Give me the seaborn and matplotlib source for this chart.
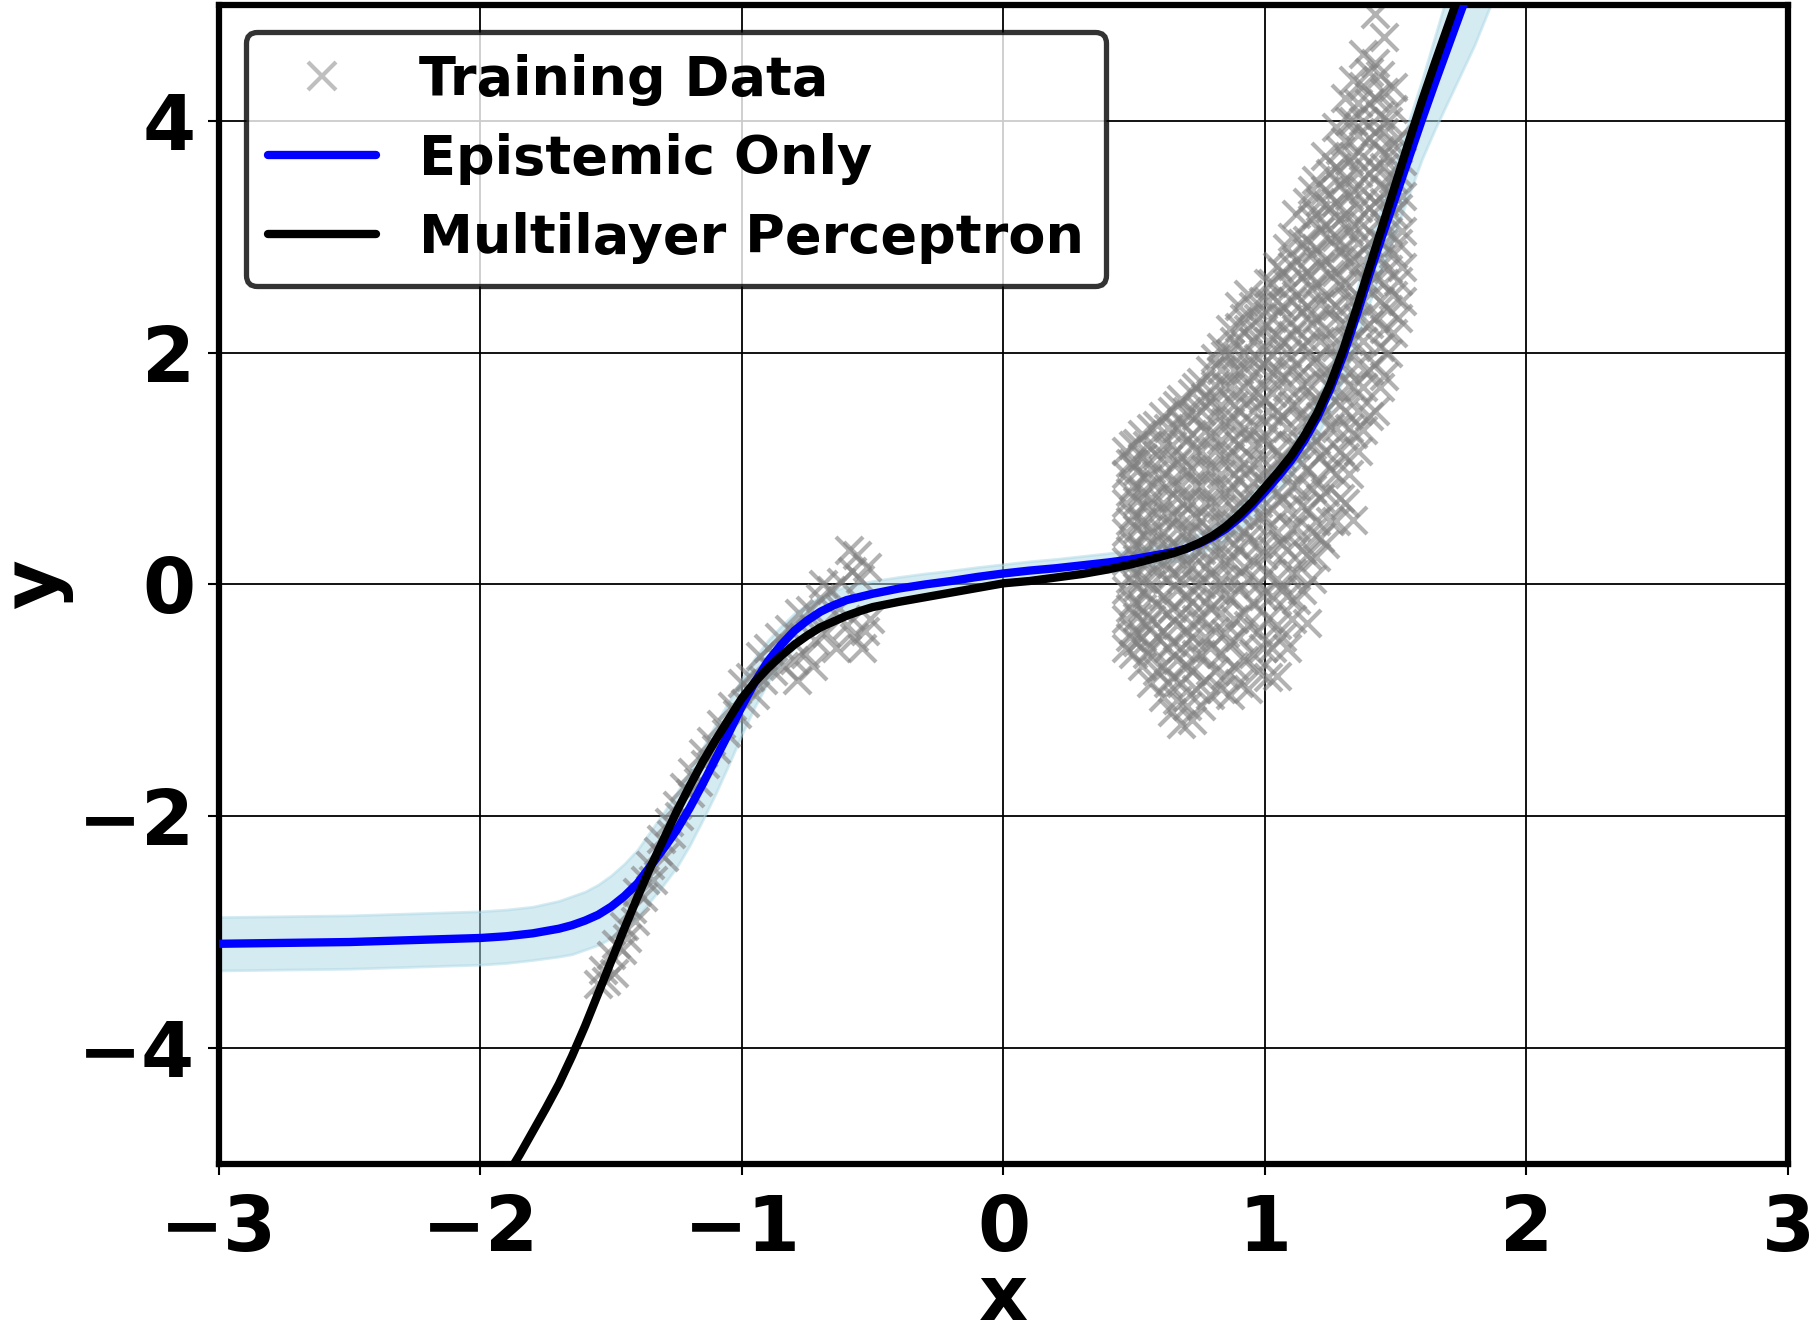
import matplotlib
matplotlib.use("Agg")
import matplotlib.pyplot as plt
import numpy as np
import pandas as pd
import seaborn as sns
from matplotlib.lines import Line2D

# ---------------- data ----------------
# Epistemic-only model: mean curve and half-width of its shaded band
epi_x = [-3.0, -2.5, -2.0, -1.9, -1.8, -1.7, -1.65, -1.6, -1.55, -1.5, -1.45, -1.4,
         -1.35, -1.3, -1.25, -1.2, -1.15, -1.1, -1.05, -1.0,
         -0.95, -0.9, -0.85, -0.8, -0.75, -0.7, -0.65, -0.6,
         -0.5, -0.4, -0.3, -0.2, -0.1, 0.0, 0.1, 0.2, 0.3, 0.4, 0.5, 0.6,
         0.65, 0.7, 0.75, 0.8, 0.85, 0.9, 0.95, 1.0,
         1.05, 1.1, 1.15, 1.2, 1.25, 1.3, 1.35, 1.4, 1.45, 1.5,
         1.55, 1.6, 1.65, 1.7, 1.75, 1.8, 1.85, 1.9]
epi_y = [-3.10, -3.085, -3.05, -3.035, -3.01, -2.97, -2.94, -2.90, -2.85, -2.78, -2.69, -2.58,
         -2.43, -2.28, -2.12, -1.93, -1.72, -1.50, -1.28, -1.05,
         -0.84, -0.66, -0.52, -0.40, -0.31, -0.235, -0.18, -0.135,
         -0.08, -0.035, 0.0, 0.03, 0.065, 0.095, 0.12, 0.14, 0.165, 0.19, 0.22, 0.26,
         0.28, 0.31, 0.355, 0.41, 0.48, 0.57, 0.68, 0.80,
         0.93, 1.07, 1.24, 1.44, 1.69, 1.98, 2.32, 2.68, 3.02, 3.35,
         3.68, 4.01, 4.33, 4.64, 4.95, 5.25, 5.55, 5.85]
epi_hw = [0.23, 0.23, 0.23, 0.23, 0.23, 0.24, 0.25, 0.25, 0.26, 0.27, 0.28, 0.29,
          0.30, 0.31, 0.32, 0.32, 0.31, 0.30, 0.27, 0.24,
          0.21, 0.18, 0.16, 0.15, 0.14, 0.13, 0.125, 0.12,
          0.11, 0.10, 0.095, 0.09, 0.085, 0.08, 0.08, 0.08, 0.08, 0.08, 0.08, 0.08,
          0.08, 0.08, 0.085, 0.09, 0.095, 0.10, 0.105, 0.11,
          0.12, 0.13, 0.14, 0.16, 0.18, 0.20, 0.22, 0.25, 0.28, 0.30,
          0.32, 0.34, 0.40, 0.47, 0.54, 0.60, 0.62, 0.65]

# Multilayer perceptron curve
mlp_x = [-1.92, -1.85, -1.8, -1.75, -1.7, -1.65, -1.6, -1.55, -1.5, -1.45, -1.4,
         -1.35, -1.3, -1.25, -1.2, -1.15, -1.1, -1.05, -1.0,
         -0.95, -0.9, -0.85, -0.8, -0.75, -0.7, -0.65, -0.6, -0.55, -0.5,
         -0.4, -0.3, -0.2, -0.1, 0.0, 0.1, 0.2, 0.3, 0.4, 0.5,
         0.55, 0.6, 0.65, 0.7, 0.75, 0.8, 0.85, 0.9, 0.95, 1.0,
         1.05, 1.1, 1.15, 1.2, 1.25, 1.3, 1.35, 1.4, 1.45, 1.5, 1.55, 1.6,
         1.65, 1.7, 1.75]
mlp_y = [-5.18, -4.92, -4.72, -4.52, -4.31, -4.07, -3.81, -3.53, -3.25, -2.97, -2.70,
         -2.44, -2.20, -1.96, -1.74, -1.53, -1.34, -1.16, -0.98,
         -0.84, -0.72, -0.615, -0.52, -0.44, -0.37, -0.32, -0.27, -0.23, -0.195,
         -0.15, -0.11, -0.07, -0.03, 0.01, 0.03, 0.06, 0.09, 0.13, 0.18,
         0.21, 0.24, 0.27, 0.31, 0.36, 0.42, 0.50, 0.60, 0.71, 0.84,
         0.97, 1.11, 1.28, 1.48, 1.73, 2.03, 2.38, 2.74, 3.10, 3.46, 3.82, 4.17,
         4.50, 4.82, 5.14]

# Training data, left cluster
left_x = [-1.55, -1.53, -1.52, -1.50, -1.49, -1.48, -1.46, -1.45, -1.44, -1.42,
          -1.41, -1.40, -1.38, -1.37, -1.35, -1.34, -1.32, -1.31, -1.30, -1.28,
          -1.27, -1.25, -1.24, -1.22, -1.20, -1.19, -1.17, -1.15, -1.14, -1.12,
          -1.10, -1.08, -1.06, -1.04, -1.02, -1.00, -0.99, -0.97, -0.95, -0.93,
          -0.92, -0.90, -0.88, -0.86, -0.84, -0.82, -0.80, -0.78, -0.76, -0.74,
          -0.72, -0.70, -0.68, -0.66, -0.64, -0.62, -0.60, -0.58, -0.57, -0.56,
          -0.55, -0.54, -0.52, -0.51, -0.59, -0.63, -0.53, -0.79, -0.73, -0.69]
left_y = [-3.45, -3.33, -3.42, -3.20, -3.35, -3.10, -3.15, -2.95, -3.05, -2.80,
          -2.90, -2.65, -2.70, -2.55, -2.42, -2.55, -2.30, -2.20, -2.35, -2.05,
          -2.15, -1.90, -2.00, -1.75, -1.80, -1.62, -1.70, -1.45, -1.55, -1.35,
          -1.42, -1.20, -1.28, -1.05, -1.12, -0.85, -1.02, -0.80, -0.95, -0.62,
          -0.82, -0.55, -0.75, -0.45, -0.70, -0.38, -0.65, -0.25, -0.60, -0.22,
          -0.48, -0.12, -0.42, -0.05, -0.55, 0.02, -0.35, 0.12, -0.45, 0.25,
          0.05, -0.55, 0.15, -0.30, 0.30, -0.20, -0.40, -0.82, -0.70, 0.00]

# Training data, right cluster (read column by column)
right_cols_x = [0.47, 0.495, 0.53, 0.565, 0.61, 0.645, 0.68, 0.72, 0.755, 0.79,
                0.83, 0.865, 0.90, 0.935, 0.975, 1.01, 1.045, 1.085, 1.12, 1.16,
                1.195, 1.23, 1.27, 1.305, 1.336, 1.375, 1.42, 1.455, 1.49, 1.525]
right_cols_y = [
    [-0.55, -0.3, -0.05, 0.2, 0.45, 0.7, 0.95, 1.15],
    [-0.6, -0.4, -0.15, 0.1, 0.35, 0.6, 0.85, 1.05, 1.2],
    [-0.7, -0.45, -0.2, 0.05, 0.3, 0.55, 0.8, 1.1, 1.3],
    [-0.85, -0.55, -0.3, 0.0, 0.25, 0.5, 0.75, 1.0, 1.35],
    [-0.97, -0.7, -0.4, -0.1, 0.2, 0.45, 0.7, 0.95, 1.2, 1.45],
    [-1.1, -0.8, -0.5, -0.2, 0.1, 0.35, 0.6, 0.9, 1.2, 1.5],
    [-1.2, -0.85, -0.55, -0.25, 0.05, 0.3, 0.6, 0.85, 1.1, 1.4, 1.6],
    [-1.17, -0.75, -0.45, -0.15, 0.15, 0.45, 0.7, 1.0, 1.3, 1.65],
    [-1.05, -0.6, -0.3, 0.0, 0.3, 0.55, 0.85, 1.15, 1.5, 1.75],
    [-0.95, -0.55, -0.2, 0.1, 0.4, 0.7, 1.0, 1.3, 1.6, 1.85],
    [-0.9, -0.6, -0.25, 0.05, 0.35, 0.65, 0.95, 1.25, 1.55, 1.85, 2.05],
    [-0.95, -0.5, -0.1, 0.2, 0.5, 0.8, 1.1, 1.4, 1.7, 2.0, 2.2],
    [-0.85, -0.45, -0.05, 0.3, 0.6, 0.9, 1.2, 1.5, 1.85, 2.22, 2.4],
    [-0.9, -0.35, 0.05, 0.4, 0.7, 1.0, 1.3, 1.6, 1.9, 2.2, 2.51],
    [-0.75, -0.4, 0.0, 0.35, 0.7, 1.05, 1.35, 1.65, 1.95, 2.3],
    [-0.8, -0.3, 0.1, 0.5, 0.85, 1.2, 1.5, 1.8, 2.1, 2.45, 2.6],
    [-0.79, -0.35, 0.05, 0.45, 0.8, 1.15, 1.5, 1.85, 2.15, 2.45, 2.75],
    [-0.55, -0.1, 0.3, 0.65, 1.0, 1.35, 1.7, 2.0, 2.3, 2.6, 2.9],
    [-0.13, 0.1, 0.5, 0.85, 1.2, 1.55, 1.9, 2.2, 2.5, 2.8, 3.2],
    [-0.33, 0.25, 0.65, 1.0, 1.4, 1.75, 2.1, 2.4, 2.7, 2.97, 3.3],
    [0.24, 0.55, 0.9, 1.25, 1.6, 1.95, 2.3, 2.6, 2.9, 3.2, 3.49],
    [0.35, 0.8, 1.15, 1.5, 1.85, 2.2, 2.5, 2.8, 3.1, 3.4, 3.7],
    [0.55, 0.95, 1.35, 1.7, 2.05, 2.4, 2.7, 3.0, 3.3, 3.6, 3.95],
    [0.7, 1.1, 1.5, 1.9, 2.25, 2.6, 2.9, 3.2, 3.5, 3.83, 4.2],
    [0.56, 1.3, 1.7, 2.1, 2.45, 2.8, 3.1, 3.4, 3.7, 4.0, 4.35],
    [1.33, 1.7, 2.1, 2.45, 2.8, 3.1, 3.4, 3.7, 4.0, 4.3, 4.58],
    [1.5, 1.9, 2.3, 2.65, 3.0, 3.3, 3.6, 3.9, 4.2, 4.5, 4.92],
    [1.8, 2.2, 2.6, 2.95, 3.3, 3.6, 3.9, 4.25, 4.72],
    [2.17, 2.5, 2.85, 3.2, 3.5, 3.8, 4.1, 4.29],
    [2.45, 2.74, 3.05, 3.35, 3.65],
]
# second, staggered set of columns in the same cloud
right_cols2_x = [0.482, 0.512, 0.548, 0.588, 0.628, 0.662, 0.70, 0.738, 0.772, 0.81,
                 0.848, 0.882, 0.918, 0.955, 0.992, 1.028, 1.065, 1.102, 1.14, 1.178,
                 1.212, 1.25, 1.288, 1.32, 1.355, 1.398, 1.438, 1.472, 1.508]
right_cols2_y = [
    [-0.45, -0.2, 0.05, 0.3, 0.55, 0.8, 1.05],
    [-0.5, -0.28, -0.02, 0.22, 0.48, 0.72, 0.98, 1.22],
    [-0.6, -0.35, -0.08, 0.18, 0.42, 0.68, 0.92, 1.2],
    [-0.75, -0.45, -0.18, 0.12, 0.38, 0.62, 0.88, 1.12, 1.38],
    [-0.85, -0.55, -0.25, 0.05, 0.32, 0.58, 0.82, 1.08, 1.35],
    [-1.0, -0.65, -0.35, -0.05, 0.22, 0.48, 0.75, 1.05, 1.35, 1.55],
    [-1.05, -0.7, -0.4, -0.1, 0.18, 0.45, 0.72, 0.98, 1.25, 1.5],
    [-0.9, -0.6, -0.3, 0.0, 0.3, 0.58, 0.85, 1.15, 1.45, 1.7],
    [-0.82, -0.45, -0.15, 0.15, 0.42, 0.7, 1.0, 1.32, 1.62],
    [-0.75, -0.4, -0.05, 0.25, 0.55, 0.85, 1.15, 1.45, 1.72, 1.95],
    [-0.78, -0.42, -0.08, 0.2, 0.5, 0.8, 1.1, 1.4, 1.7, 1.98],
    [-0.7, -0.3, 0.05, 0.35, 0.65, 0.95, 1.25, 1.55, 1.85, 2.1],
    [-0.65, -0.25, 0.15, 0.45, 0.75, 1.05, 1.35, 1.7, 2.0, 2.3],
    [-0.6, -0.15, 0.2, 0.55, 0.88, 1.2, 1.5, 1.8, 2.1, 2.4],
    [-0.55, -0.1, 0.25, 0.6, 0.95, 1.25, 1.6, 1.9, 2.2, 2.45],
    [-0.55, -0.1, 0.3, 0.65, 1.0, 1.35, 1.65, 1.98, 2.3, 2.6],
    [-0.45, -0.05, 0.35, 0.75, 1.1, 1.45, 1.8, 2.1, 2.4, 2.7],
    [-0.3, 0.1, 0.48, 0.85, 1.2, 1.55, 1.85, 2.15, 2.45, 2.75, 3.0],
    [-0.05, 0.3, 0.68, 1.05, 1.4, 1.72, 2.05, 2.35, 2.65, 2.95],
    [0.05, 0.45, 0.82, 1.2, 1.58, 1.92, 2.25, 2.55, 2.85, 3.15, 3.4],
    [0.4, 0.75, 1.1, 1.45, 1.78, 2.1, 2.42, 2.75, 3.05, 3.3],
    [0.55, 1.0, 1.35, 1.7, 2.05, 2.38, 2.68, 2.98, 3.25, 3.55],
    [0.75, 1.15, 1.55, 1.9, 2.25, 2.58, 2.88, 3.15, 3.45, 3.75],
    [0.95, 1.35, 1.72, 2.1, 2.45, 2.78, 3.05, 3.35, 3.65, 4.0],
    [1.15, 1.5, 1.9, 2.3, 2.65, 2.95, 3.25, 3.55, 3.88, 4.15],
    [1.45, 1.85, 2.25, 2.6, 2.95, 3.25, 3.55, 3.85, 4.15, 4.42],
    [1.7, 2.05, 2.45, 2.82, 3.15, 3.45, 3.75, 4.05, 4.4],
    [2.0, 2.38, 2.72, 3.05, 3.4, 3.7, 4.0],
    [2.3, 2.62, 2.95, 3.25, 3.55, 3.85],
]

x_ticks = [-3, -2, -1, 0, 1, 2, 3]
y_ticks = [-4, -2, 0, 2, 4]
labels = ["Training Data", "Epistemic Only", "Multilayer Perceptron"]

# ---------------- assemble tables ----------------
cols_x = right_cols_x + right_cols2_x
cols_y = right_cols_y + right_cols2_y
rx = [cx for cx, ys in zip(cols_x, cols_y) for _ in ys]
ry = [y for ys in cols_y for y in ys]
train = pd.DataFrame({"x": left_x + rx, "y": left_y + ry})
epi = pd.DataFrame({"x": epi_x, "y": epi_y, "hw": epi_hw})
mlp = pd.DataFrame({"x": mlp_x, "y": mlp_y})

# ---------------- figure ----------------
sns.set_theme(style="ticks")
plt.rcParams["font.family"] = ["DejaVu Sans"]
plt.rcParams["font.weight"] = "bold"
plt.rcParams["axes.labelweight"] = "bold"
plt.rcParams["text.color"] = "black"
plt.rcParams["axes.labelcolor"] = "black"
plt.rcParams["xtick.color"] = "black"
plt.rcParams["ytick.color"] = "black"
plt.rcParams["xtick.labelcolor"] = "black"
plt.rcParams["ytick.labelcolor"] = "black"

fig = plt.figure(figsize=(18.11, 13.41), dpi=100)
ax = fig.add_axes([0.1209, 0.1320, 0.8664, 0.8643])

ax.fill_between(epi["x"], epi["y"] - epi["hw"], epi["y"] + epi["hw"],
                color="lightblue", alpha=0.5, linewidth=2, zorder=1)
sns.scatterplot(data=train, x="x", y="y", marker="x", s=380, color="gray",
                alpha=0.6, linewidth=3, ax=ax, zorder=2, legend=False)
sns.lineplot(data=epi, x="x", y="y", color="blue", linewidth=6, ax=ax,
             zorder=3, estimator=None, sort=False)
sns.lineplot(data=mlp, x="x", y="y", color="black", linewidth=6, ax=ax,
             zorder=4, estimator=None, sort=False)

ax.set_xlim(-3, 3)
ax.set_ylim(-5, 5)
ax.set_xticks(x_ticks)
ax.set_yticks(y_ticks)
ax.grid(True, color="black", linewidth=1.3)
ax.set_axisbelow(True)
for sp in ax.spines.values():
    sp.set_visible(True)
    sp.set_linewidth(4.5)
    sp.set_color("black")
ax.tick_params(axis="both", labelsize=55, length=8, width=1.5, color="black",
               labelcolor="black")
ax.tick_params(axis="x", pad=13)
ax.tick_params(axis="y", pad=9)
for t in ax.get_xticklabels() + ax.get_yticklabels():
    t.set_fontweight("bold")

ax.set_xlabel("x", fontsize=55, fontweight="bold", labelpad=-4, color="black")
ax.set_ylabel("y", fontsize=55, fontweight="bold", labelpad=4, color="black")

handles = [
    Line2D([], [], marker="x", color="gray", alpha=0.5, linestyle="None",
           markersize=19.5, markeredgewidth=3),
    Line2D([], [], color="blue", linewidth=6),
    Line2D([], [], color="black", linewidth=6),
]
leg = ax.legend(handles, labels, loc="upper left", frameon=True, fancybox=True,
                framealpha=0.8, edgecolor="black",
                prop={"size": 39, "weight": "bold"})
leg.get_frame().set_linewidth(3.8)
for t in leg.get_texts():
    t.set_color("black")

fig.savefig("out.png", dpi=100)
